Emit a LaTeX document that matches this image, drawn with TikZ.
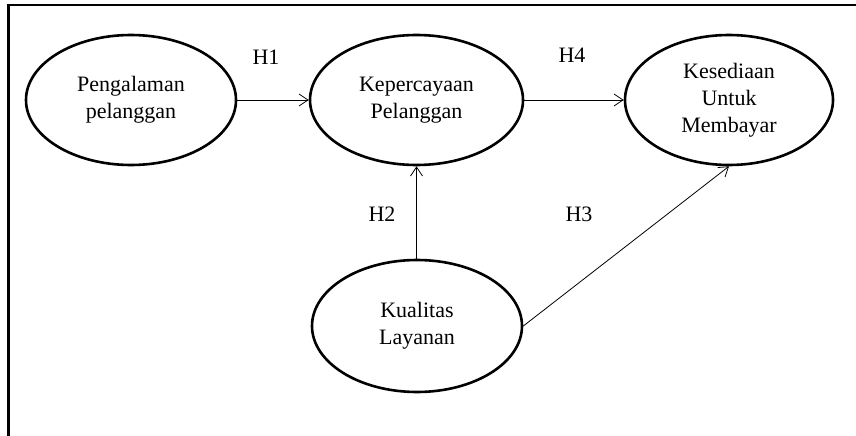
\documentclass[tikz,border=0pt]{standalone}
\usepackage{fontspec}
\setmainfont{Liberation Serif}
\usetikzlibrary{shapes.geometric,arrows.meta}
\begin{document}
\begin{tikzpicture}[x=1pt,y=-1pt,
  var/.style={ellipse,draw,line width=2.6pt,inner sep=0pt,align=center,
    font=\fontsize{22}{27}\selectfont},
  conn/.style={line width=0.8pt,-{Straight Barb[length=9pt,width=12pt,line width=0.8pt]}},
  hlab/.style={font=\fontsize{22}{27}\selectfont,inner sep=0pt}]
\useasboundingbox (0,0) rectangle (856,436);
\draw[line width=2.6pt] (8.7,440) -- (8.7,5) -- (860,5);
\node[var,minimum width=210pt,minimum height=130pt] (peng) at (131,100) {Pengalaman\\pelanggan};
\node[var,minimum width=213pt,minimum height=130pt] (kep) at (416.5,100) {Kepercayaan\\Pelanggan};
\node[var,minimum width=208pt,minimum height=130pt] (kes) at (729,100) {Kesediaan\\Untuk\\Membayar};
\node[var,minimum width=210pt,minimum height=132pt] (kual) at (417,326) {Kualitas\\Layanan};
\draw[conn] (peng.east) -- (kep.west);
\draw[conn] (kep.east) -- (kes.west);
\draw[conn] (kual.north -| kep.south) -- (kep.south);
\draw[conn] (kual.east) -- (kes.south);
\node[hlab] (h1) at (266,57) {H1};
\node[hlab] (h4) at (572,55) {H4};
\node[hlab] (h2) at (382,214) {H2};
\node[hlab] (h3) at (579,214) {H3};
\end{tikzpicture}
\end{document}
